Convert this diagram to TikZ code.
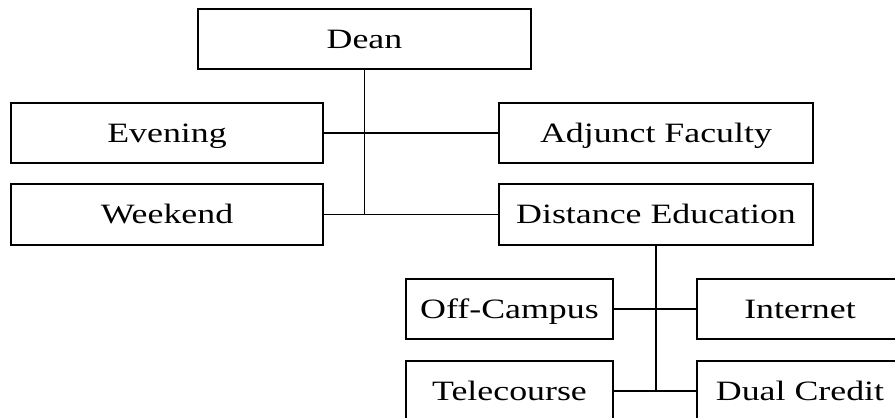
\documentclass[tikz,border=0pt]{standalone}
\usepackage{fontspec}
\setmainfont{Liberation Serif}
\newcommand{\lbl}[1]{\scalebox{1.28}[1]{#1}}
\begin{document}
\begin{tikzpicture}[x=1pt,y=-1pt,
  box/.style={draw, line width=1.6pt, inner sep=0pt, text height=20pt, text depth=2pt,
    font=\fontsize{28}{30}\selectfont, minimum height=60pt},
  wide/.style={box, minimum width=312pt},
  narrow/.style={box, minimum width=207pt},
  link/.style={line width=1.6pt}]
\fill[white] (0,0) rectangle (895,418);
\useasboundingbox[clip] (0,0) rectangle (895,418);
\node[box, minimum width=333pt] (dean) at (364.5,39) {\lbl{Dean}};
\node[wide] (eve) at (167,133) {\lbl{Evening}};
\node[wide, minimum width=314pt] (adj) at (656,133) {\lbl{Adjunct Faculty}};
\node[wide, minimum height=61pt] (wkd) at (167,214.5) {\lbl{Weekend}};
\node[wide, minimum width=314pt, minimum height=61pt] (dist) at (656,214.5) {\lbl{Distance Education}};
\node[narrow] (off) at (509.5,309) {\lbl{Off-Campus}};
\node[narrow, minimum width=206pt] (net) at (800,309) {\lbl{Internet}};
\node[narrow] (tele) at (509.5,391) {\lbl{Telecourse}};
\node[narrow, minimum width=206pt] (dual) at (800,391) {\lbl{Dual Credit}};
\draw[link] (dean.south) -- (dean.south |- wkd.east);
\draw[link] (eve.east) -- (adj.west);
\draw[link] (wkd.east) -- (dist.west);
\draw[link] (dist.south) -- (dist.south |- tele.east);
\draw[link] (off.east) -- (net.west);
\draw[link] (tele.east) -- (dual.west);
\end{tikzpicture}
\end{document}
